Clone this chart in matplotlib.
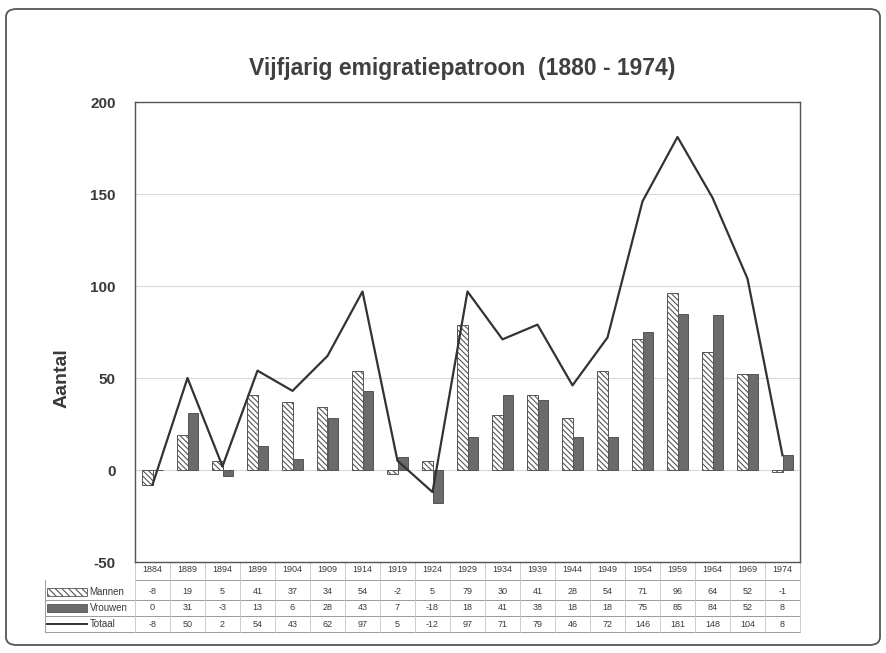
import numpy as np
import matplotlib
matplotlib.use("Agg")
from matplotlib import pyplot as plt
from matplotlib.patches import FancyBboxPatch, Rectangle
from matplotlib.lines import Line2D
import matplotlib.transforms as mtransforms

plt.rcParams['font.family'] = ['Liberation Sans', 'DejaVu Sans']
plt.rcParams['axes.unicode_minus'] = False
plt.rcParams['hatch.linewidth'] = 0.8

jaren = ['1884', '1889', '1894', '1899', '1904', '1909', '1914', '1919', '1924', '1929',
         '1934', '1939', '1944', '1949', '1954', '1959', '1964', '1969', '1974']
mannen = [-8, 19, 5, 41, 37, 34, 54, -2, 5, 79, 30, 41, 28, 54, 71, 96, 64, 52, -1]
vrouwen = [0, 31, -3, 13, 6, 28, 43, 7, -18, 18, 41, 38, 18, 18, 75, 85, 84, 52, 8]
totaal = [-8, 50, 2, 54, 43, 62, 97, 5, -12, 97, 71, 79, 46, 72, 146, 181, 148, 104, 8]

txt = '#3a3a3a'
dark = '#6b6b6b'

fig = plt.figure(figsize=(8.86, 6.53), dpi=100)
fig.patch.set_facecolor('white')

# outer rounded frame (scanned page border)
frame = FancyBboxPatch((6 / 886, 8 / 653), 874 / 886, 636 / 653,
                       boxstyle='round,pad=0,rounding_size=0.012',
                       transform=fig.transFigure, fill=False,
                       edgecolor='#555555', linewidth=1.3)
fig.patches.append(frame)

ax = fig.add_axes([135 / 886, 1 - 562 / 653, 665 / 886, 460 / 653])
x = np.arange(len(jaren))
w = 0.31

ax.bar(x - w / 2, mannen, w, facecolor='white', edgecolor='#555555',
       hatch='\\\\\\\\\\\\', linewidth=0.7, zorder=3)
ax.bar(x + w / 2, vrouwen, w, facecolor=dark, edgecolor='#555555',
       linewidth=0.7, zorder=3)
ax.plot(x, totaal, color='#333333', linewidth=1.6, zorder=4)

ax.set_xlim(-0.5, len(jaren) - 0.5)
ax.set_ylim(-50, 200)
ax.set_yticks([-50, 0, 50, 100, 150, 200])
ax.tick_params(axis='y', labelsize=11, colors=txt, length=0, pad=14)
for lab in ax.get_yticklabels():
    lab.set_fontweight('bold')
ax.set_xticks([])
ax.yaxis.grid(True, color='#dadada', linewidth=0.8, zorder=0)
for s in ax.spines.values():
    s.set_color('#555555')
    s.set_linewidth(1.0)

fig.text(62 / 886, 1 - 378 / 653, 'Aantal', rotation=90, ha='center', va='center',
         fontsize=14, fontweight='bold', color=txt)
fig.text(462 / 886, 1 - 68 / 653, 'Vijfjarig emigratiepatroon  (1880 - 1974)',
         ha='center', va='center', fontsize=16.5, color='#404040', fontweight='semibold')

# data table below the axes
trans = mtransforms.blended_transform_factory(ax.transData, ax.transAxes)
row_y = [-0.017, -0.065, -0.100, -0.135]
line_y = [-0.039, -0.083, -0.117, -0.152]
for i, j in enumerate(jaren):
    ax.text(i, row_y[0], j, transform=trans, ha='center', va='center',
            fontsize=6.5, color=txt, clip_on=False)
    for r, vals in zip(row_y[1:], [mannen, vrouwen, totaal]):
        ax.text(i, r, str(vals[i]), transform=trans, ha='center', va='center',
                fontsize=6.5, color=txt, clip_on=False)

lx0 = -90 / 665
for ly in line_y:
    ax.add_line(Line2D([lx0 if ly != line_y[0] else 0, 1], [ly, ly], transform=ax.transAxes,
                       color='#9a9a9a', linewidth=0.7, clip_on=False))
ax.add_line(Line2D([lx0, lx0], [line_y[0], line_y[-1]], transform=ax.transAxes,
                   color='#9a9a9a', linewidth=0.7, clip_on=False))
for i in range(len(jaren) + 1):
    ax.add_line(Line2D([i - 0.5, i - 0.5], [0, line_y[-1]], transform=trans,
                       color='#c4c4c4', linewidth=0.6, clip_on=False))

# legend keys in the table
kx = -88 / 665
kw = 40 / 665
kh = 0.016
ax.add_patch(Rectangle((kx, row_y[1] - kh / 2), kw, kh, transform=ax.transAxes,
                       facecolor='white', edgecolor='#555555', hatch='\\\\\\\\\\',
                       linewidth=0.6, clip_on=False))
ax.add_patch(Rectangle((kx, row_y[2] - kh / 2), kw, kh, transform=ax.transAxes,
                       facecolor=dark, edgecolor='#555555', linewidth=0.6, clip_on=False))
ax.add_line(Line2D([kx, kx + kw], [row_y[3], row_y[3]], transform=ax.transAxes,
                   color='#333333', linewidth=1.4, clip_on=False))
for r, name in zip(row_y[1:], ['Mannen', 'Vrouwen', 'Totaal']):
    ax.text(kx + kw + 0.004, r, name, transform=ax.transAxes, ha='left', va='center',
            fontsize=7, color=txt, clip_on=False)

fig.savefig('out.png', dpi=100)
